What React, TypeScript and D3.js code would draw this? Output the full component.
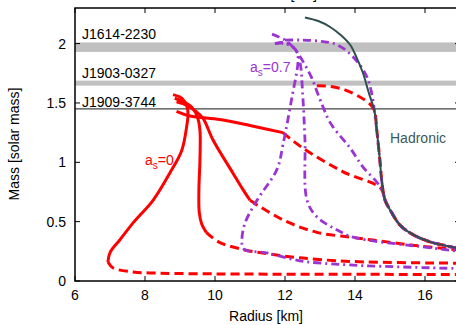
import React from 'react';
import * as d3 from 'd3';

type P = [number, number];

// ---- data (Radius km, Mass solar) ----
const xTicks = [6, 8, 10, 12, 14, 16];
const yTicks = [0, 0.5, 1, 1.5, 2];
const yTickLabels = ['0', '0.5', '1', '1.5', '2'];

const pulsarBands = [
  { name: 'J1614-2230', lo: 1.93, hi: 2.01 },
  { name: 'J1903-0327', lo: 1.646, hi: 1.688 },
];
const pulsarLine = { name: 'J1909-3744', m: 1.45 };

const hadronic: P[] = [
  [12.57, 2.22], [12.95, 2.19], [13.29, 2.14], [13.6, 2.07], [13.86, 1.99], [14.05, 1.88],
  [14.23, 1.75], [14.4, 1.58], [14.55, 1.44], [14.63, 1.25], [14.71, 1.02], [14.77, 0.83],
  [14.86, 0.68], [15.06, 0.57], [15.29, 0.47], [15.66, 0.39], [16.14, 0.33], [16.63, 0.295],
  [17.0, 0.27],
];

// a_s = 0 (red): stable (solid) and unstable (dashed) parts
const redASolid: P[] = [
  [8.8, 1.57], [9.05, 1.54], [9.2, 1.47], [9.23, 1.4], [9.2, 1.32], [9.05, 1.1], [8.71, 0.91],
  [8.23, 0.68], [7.66, 0.49], [7.29, 0.35], [7.0, 0.24], [6.94, 0.16],
];
const redADashed: P[] = [
  [6.94, 0.16], [7.09, 0.11], [7.66, 0.076], [8.14, 0.068], [10.0, 0.06], [13.0, 0.057], [17.0, 0.055],
];
const redBSolid: P[] = [
  [8.85, 1.54], [9.1, 1.51], [9.35, 1.46], [9.5, 1.38], [9.57, 1.27], [9.57, 1.02], [9.54, 0.77],
  [9.55, 0.58], [9.62, 0.48], [9.75, 0.41],
];
const redBDashed: P[] = [
  [9.75, 0.41], [10.1, 0.33], [10.8, 0.265], [11.5, 0.23], [12.43, 0.195], [13.86, 0.165], [17.0, 0.15],
];
const redCSolid: P[] = [
  [8.9, 1.51], [9.2, 1.48], [9.45, 1.43], [9.66, 1.37], [9.94, 1.19], [10.51, 0.91], [10.8, 0.77],
  [11.0, 0.68],
];
const redCDashed: P[] = [
  [11.0, 0.68], [11.94, 0.515], [12.91, 0.41], [13.86, 0.37], [14.51, 0.345], [15.7, 0.3], [17.0, 0.26],
];
const redDSolid: P[] = [
  [8.9, 1.43], [9.29, 1.39], [10.14, 1.36], [11.0, 1.31], [11.94, 1.25],
];
const redDDashed: P[] = [
  [11.94, 1.25], [12.51, 1.12], [13.66, 0.92], [14.74, 0.78],
];
const redEDashed: P[] = [
  [12.91, 1.645], [13.29, 1.64], [13.71, 1.61], [14.14, 1.55], [14.43, 1.49], [14.55, 1.44],
];

// a_s = 0.7 (purple)
const purple1: P[] = [
  [11.71, 2.0], [11.95, 2.01], [12.2, 1.98], [12.35, 1.92], [12.37, 1.84], [12.2, 1.55],
  [11.95, 1.16], [11.77, 0.94], [11.2, 0.68], [10.86, 0.49], [10.77, 0.35], [10.82, 0.27],
  [11.49, 0.236], [12.43, 0.17], [13.86, 0.135], [17.0, 0.105],
];
const purple2: P[] = [
  [11.72, 2.0], [12.0, 2.0], [12.3, 1.95], [12.43, 1.84], [12.5, 1.6], [12.57, 1.19],
  [12.63, 0.68], [12.91, 0.54], [13.49, 0.43], [13.94, 0.37], [15.86, 0.29], [17.0, 0.25],
];
const purple3: P[] = [
  [12.0, 2.03], [12.43, 2.03], [13.0, 2.02], [13.49, 1.99], [13.94, 1.89], [14.34, 1.72],
  [14.51, 1.53], [14.55, 1.44],
];
const purple4: P[] = [
  [11.63, 2.08], [12.0, 2.03], [12.23, 1.97], [12.45, 1.88], [12.75, 1.72], [13.0, 1.53],
  [13.3, 1.33], [13.86, 1.12], [14.23, 0.96], [14.63, 0.83], [14.8, 0.75],
];

const hadronicBelow = (m: number): P[] => hadronic.filter((d) => d[1] < m);

export default function App() {
  const W = 456;
  const H = 325;
  const x = d3.scaleLinear().domain([6, 17]).range([75, 460]);
  const y = d3.scaleLinear().domain([0, 2.3]).range([281, 8]);
  const line = d3
    .line<P>()
    .x((d) => x(d[0]))
    .y((d) => y(d[1]))
    .curve(d3.curveCatmullRom.alpha(0.5));

  const font = 'Liberation Sans, Arial, Helvetica, sans-serif';
  const red = '#ff0000';
  const purple = '#9a35d2';
  const slate = '#2f4f4f';
  const redDash = '9,5';
  const purpleDash = '8,4,2,4';

  const redSolid = [redASolid, redBSolid, redCSolid, redDSolid];
  const redDashed = [
    redADashed,
    redBDashed,
    redCDashed,
    [...redDDashed, ...hadronicBelow(0.78)],
    [...redEDashed, ...hadronicBelow(1.44)],
  ];
  const purples = [
    purple1,
    purple2,
    [...purple3, ...hadronicBelow(1.44)],
    [...purple4, ...hadronicBelow(0.75)],
  ];

  const x0 = x(6);
  const x1 = x(17);
  const yb = y(0);
  const yt = y(2.3);

  return (
    <svg
      width={W}
      height={H}
      style={{ position: 'absolute', left: 0, top: 0, background: '#fff' }}
      fontFamily={font}
    >
      <defs>
        <clipPath id="plot">
          <rect x={x0} y={yt} width={x1 - x0} height={yb - yt} />
        </clipPath>
      </defs>
      <rect x={0} y={0} width={W} height={H} fill="#fff" />
      {/* pulsar constraints */}
      {pulsarBands.map((b) => (
        <rect
          key={b.name}
          x={x0}
          y={y(b.hi)}
          width={x1 - x0}
          height={y(b.lo) - y(b.hi)}
          fill="#c0c0c0"
        />
      ))}
      <line x1={x0} x2={x1} y1={y(pulsarLine.m)} y2={y(pulsarLine.m)} stroke="#444" strokeWidth={1.2} />
      <g fontSize={14} fill="#000">
        <text x={82} y={39}>{pulsarBands[0].name}</text>
        <text x={82} y={78}>{pulsarBands[1].name}</text>
        <text x={82} y={107}>{pulsarLine.name}</text>
      </g>
      {/* curves */}
      <g clipPath="url(#plot)" fill="none" strokeLinejoin="round">
        {redDashed.map((d, i) => (
          <path key={'rd' + i} d={line(d) || ''} stroke={red} strokeWidth={3} strokeDasharray={redDash} />
        ))}
        {purples.map((d, i) => (
          <path key={'p' + i} d={line(d) || ''} stroke={purple} strokeWidth={2.8} strokeDasharray={purpleDash} />
        ))}
        {redSolid.map((d, i) => (
          <path key={'rs' + i} d={line(d) || ''} stroke={red} strokeWidth={3} />
        ))}
        <path d={line(hadronic) || ''} stroke={slate} strokeWidth={2} />
      </g>
      {/* annotations */}
      <text x={145} y={165} fontSize={14} fill={red}>
        a<tspan fontSize={10} dy={4}>s</tspan>
        <tspan dy={-4}>=0</tspan>
      </text>
      <text x={250} y={72} fontSize={14} fill={purple}>
        a<tspan fontSize={10} dy={4}>s</tspan>
        <tspan dy={-4}>=0.7</tspan>
      </text>
      <text x={390} y={143} fontSize={14} fill="#3a5a5a">Hadronic</text>
      {/* frame */}
      <rect x={x0} y={yt} width={x1 - x0} height={yb - yt} fill="none" stroke="#000" strokeWidth={1.5} />
      {/* ticks */}
      <g stroke="#000" strokeWidth={1}>
        {xTicks.map((t) => (
          <g key={'xt' + t}>
            <line x1={x(t)} x2={x(t)} y1={yb} y2={yb - 5} />
            <line x1={x(t)} x2={x(t)} y1={yt} y2={yt + 5} />
          </g>
        ))}
        {yTicks.map((t) => (
          <g key={'yt' + t}>
            <line x1={x0} x2={x0 + 5} y1={y(t)} y2={y(t)} />
            <line x1={x1} x2={x1 - 5} y1={y(t)} y2={y(t)} />
          </g>
        ))}
      </g>
      <g fontSize={14} fill="#000">
        {xTicks.map((t) => (
          <text key={'xl' + t} x={x(t)} y={300} textAnchor="middle">{t}</text>
        ))}
        {yTicks.map((t, i) => (
          <text key={'yl' + t} x={66} y={y(t) + 5} textAnchor="end">{yTickLabels[i]}</text>
        ))}
        <text x={266} y={321} textAnchor="middle">Radius [km]</text>
        <text x={280} y={-1} textAnchor="middle">Radius [km]</text>
        <text transform="translate(19,144) rotate(-90)" textAnchor="middle">Mass [solar mass]</text>
      </g>
    </svg>
  );
}
